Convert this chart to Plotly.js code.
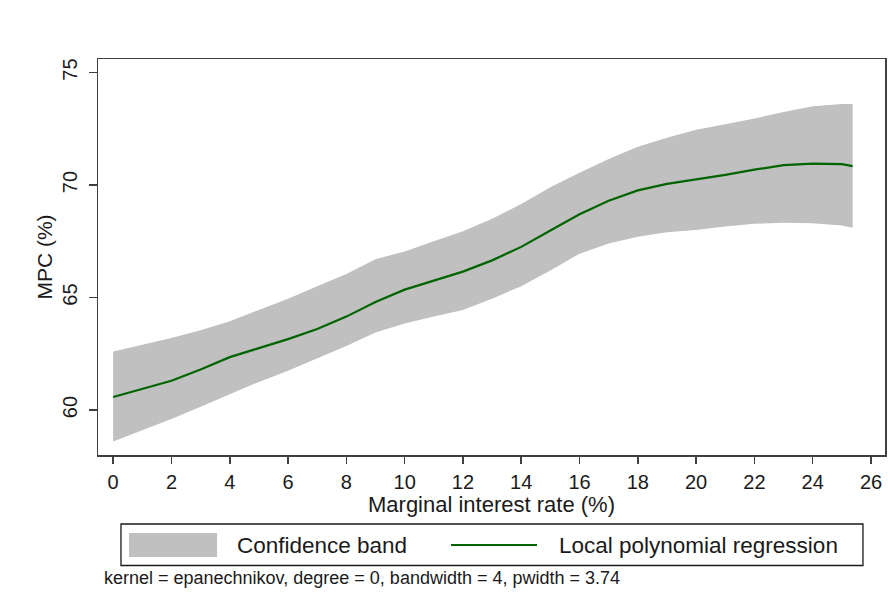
<!DOCTYPE html>
<html><head><meta charset="utf-8">
<script src="https://cdn.plot.ly/plotly-3.0.1.min.js"></script>
<style>html,body{margin:0;padding:0;background:#fff;}</style>
</head><body><div id="chart" style="width:888px;height:596px;"></div>
<script>
const rate = [0,1,2,3,4,5,6,7,8,9,10,11,12,13,14,15,16,17,18,19,20,21,22,23,24,25,25.37];
const mpcFit = [60.58,60.95,61.3,61.8,62.35,62.75,63.15,63.6,64.15,64.8,65.35,65.75,66.15,66.65,67.25,67.98,68.7,69.3,69.76,70.05,70.24,70.45,70.68,70.88,70.95,70.93,70.84];
const bandUpper = [62.6,62.9,63.2,63.55,63.95,64.45,64.95,65.5,66.05,66.7,67.05,67.5,67.95,68.5,69.15,69.9,70.55,71.15,71.7,72.1,72.45,72.7,72.95,73.25,73.5,73.6,73.6];
const bandLower = [58.6,59.1,59.6,60.15,60.7,61.25,61.75,62.3,62.85,63.45,63.85,64.15,64.45,64.95,65.5,66.2,66.95,67.4,67.7,67.9,68.0,68.15,68.28,68.32,68.3,68.2,68.1];
const xTicks = [0,2,4,6,8,10,12,14,16,18,20,22,24,26];
const yTicks = [60,65,70,75];
const legendLabels = ['Confidence band','Local polynomial regression'];
const noteText = 'kernel = epanechnikov, degree = 0, bandwidth = 4, pwidth = 3.74';

const FONT = 'Arial, "Liberation Sans", sans-serif';
const bandColor = '#c0c0c0';
const lineColor = '#006400';
const axisColor = '#404040';

const traces = [
  {x: rate, y: bandLower, mode: 'lines', line: {width: 0, color: bandColor}, showlegend: false, hoverinfo: 'skip'},
  {x: rate, y: bandUpper, mode: 'lines', fill: 'tonexty', fillcolor: bandColor, line: {width: 0, color: bandColor}, name: legendLabels[0], showlegend: false},
  {x: rate, y: mpcFit, mode: 'lines', line: {width: 2.2, color: lineColor}, name: legendLabels[1], showlegend: false}
];

const layout = {
  width: 888, height: 596,
  margin: {l: 98, r: 3, t: 59, b: 141},
  paper_bgcolor: '#ffffff', plot_bgcolor: '#ffffff',
  font: {family: FONT, color: '#1a1a1a'},
  showlegend: false,
  xaxis: {
    range: [-0.52, 26.48], tickvals: xTicks, ticktext: xTicks.map(String),
    showgrid: false, zeroline: false, showline: true, mirror: true,
    linecolor: axisColor, linewidth: 1.5,
    ticks: 'outside', ticklen: 7, tickwidth: 1.5, tickcolor: axisColor,
    tickfont: {size: 20, family: FONT, color: '#1a1a1a'},
    ticklabelstandoff: 1,
    title: {text: 'Marginal interest rate (%)', font: {size: 22, family: FONT, color: '#1a1a1a'}, standoff: 0}
  },
  yaxis: {
    range: [58.0, 75.6], tickvals: yTicks, ticktext: yTicks.map(String),
    showgrid: false, zeroline: false, showline: true, mirror: true,
    linecolor: axisColor, linewidth: 1.5,
    ticks: 'outside', ticklen: 8, tickwidth: 1.5, tickcolor: axisColor,
    tickangle: -90,
    tickfont: {size: 20, family: FONT, color: '#1a1a1a'},
    ticklabelstandoff: 4,
    title: {text: 'MPC (%)', font: {size: 21, family: FONT, color: '#1a1a1a'}, standoff: 0}
  },
  shapes: [
    {type: 'rect', xref: 'paper', yref: 'paper', x0: 0.0292, x1: 0.972, y0: -0.279, y1: -0.1742,
     line: {color: '#1a1a1a', width: 1.3}, fillcolor: 'rgba(0,0,0,0)'},
    {type: 'rect', xref: 'paper', yref: 'paper', x0: 0.0394, x1: 0.1512, y0: -0.2576, y1: -0.197,
     line: {width: 0}, fillcolor: bandColor},
    {type: 'line', xref: 'paper', yref: 'paper', x0: 0.4486, x1: 0.5578, y0: -0.2273, y1: -0.2273,
     line: {color: lineColor, width: 2}}
  ],
  annotations: [
    {xref: 'paper', yref: 'paper', x: 0.174, y: -0.2273, xanchor: 'left', yanchor: 'middle', showarrow: false,
     text: legendLabels[0], font: {size: 22.5, family: FONT, color: '#1a1a1a'}},
    {xref: 'paper', yref: 'paper', x: 0.5829, y: -0.2273, xanchor: 'left', yanchor: 'middle', showarrow: false,
     text: legendLabels[1], font: {size: 22.5, family: FONT, color: '#1a1a1a'}},
    {xref: 'paper', yref: 'paper', x: 0.005, y: -0.3106, xanchor: 'left', yanchor: 'middle', showarrow: false,
     text: noteText, font: {size: 18, family: FONT, color: '#1a1a1a'}}
  ]
};

Plotly.newPlot('chart', traces, layout, {displayModeBar: false, staticPlot: true});
</script></body></html>
